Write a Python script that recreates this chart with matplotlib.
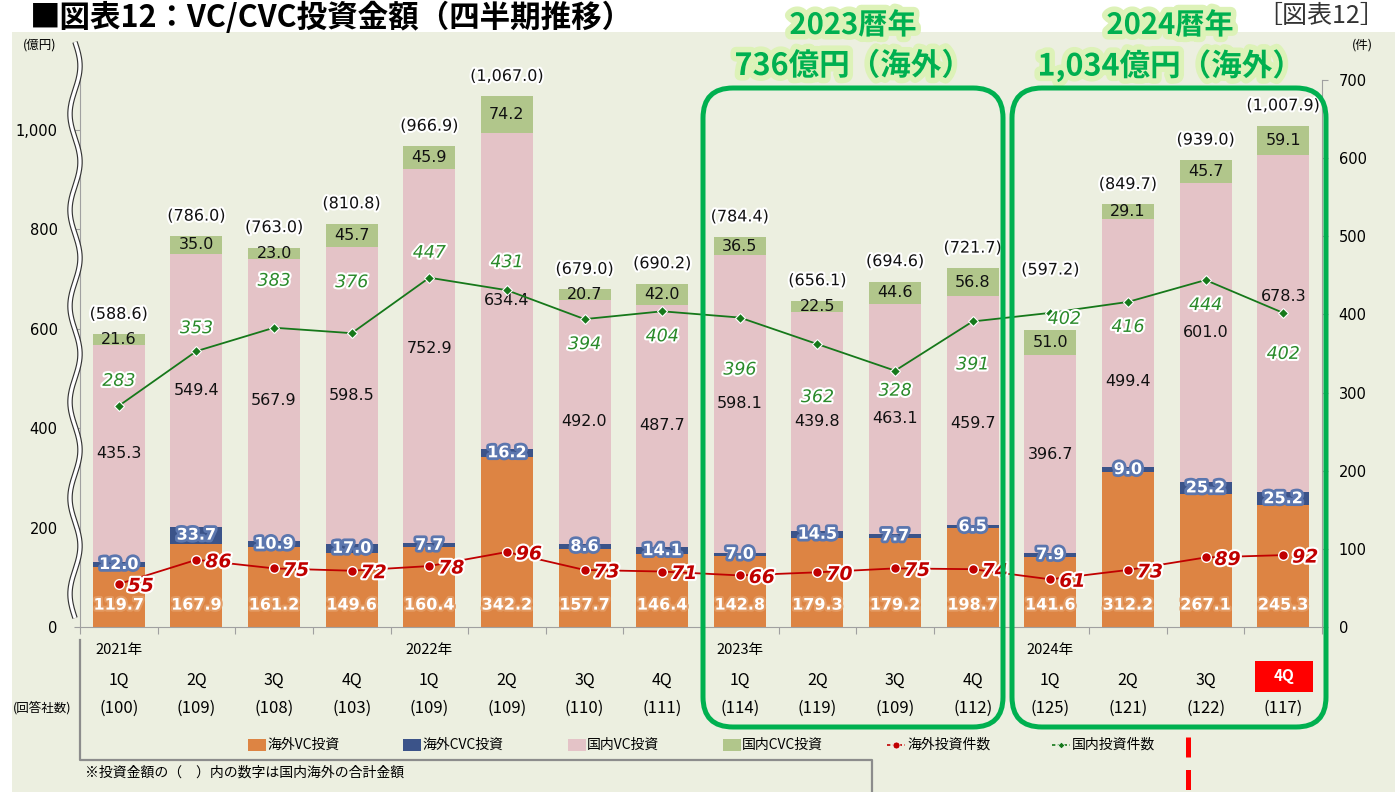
import matplotlib
matplotlib.use("Agg")
import matplotlib.pyplot as plt
import matplotlib.patheffects as pe
import matplotlib.transforms as mtrans
from matplotlib.patches import Rectangle, FancyBboxPatch
from matplotlib.lines import Line2D
import numpy as np

plt.rcParams['font.family'] = ['Noto Sans CJK JP', 'DejaVu Sans']
NUMF = ['DejaVu Sans']

# --- data ---
years = ['2021年', '2022年', '2023年', '2024年']
quarters = ['1Q', '2Q', '3Q', '4Q'] * 4
respondents = [100, 109, 108, 103, 109, 109, 110, 111, 114, 119, 109, 112, 125, 121, 122, 117]

vc_overseas = [119.7, 167.9, 161.2, 149.6, 160.4, 342.2, 157.7, 146.4,
               142.8, 179.3, 179.2, 198.7, 141.6, 312.2, 267.1, 245.3]
cvc_overseas = [12.0, 33.7, 10.9, 17.0, 7.7, 16.2, 8.6, 14.1,
                7.0, 14.5, 7.7, 6.5, 7.9, 9.0, 25.2, 25.2]
vc_domestic = [435.3, 549.4, 567.9, 598.5, 752.9, 634.4, 492.0, 487.7,
               598.1, 439.8, 463.1, 459.7, 396.7, 499.4, 601.0, 678.3]
cvc_domestic = [21.6, 35.0, 23.0, 45.7, 45.9, 74.2, 20.7, 42.0,
                36.5, 22.5, 44.6, 56.8, 51.0, 29.1, 45.7, 59.1]
totals = [588.6, 786.0, 763.0, 810.8, 966.9, 1067.0, 679.0, 690.2,
          784.4, 656.1, 694.6, 721.7, 597.2, 849.7, 939.0, 1007.9]

cnt_overseas = [55, 86, 75, 72, 78, 96, 73, 71, 66, 70, 75, 74, 61, 73, 89, 92]
cnt_domestic = [283, 353, 383, 376, 447, 431, 394, 404, 396, 362, 328, 391, 402, 416, 444, 402]

# label nudges (pixels) to keep labels apart like the original
vcd_shift = {4: 8, 5: -9, 11: -13, 13: -38, 15: 27}
tot_shift = {12: 40}
dom_off = [(0, 25), (0, 23), (0, 47), (0, 51), (0, 25), (0, 28), (0, -25), (0, -25),
           (0, -52), (0, -53), (0, -20), (0, -43), (14, -6), (0, -25), (0, -25), (0, -41)]

C_ORANGE = '#DD8443'
C_NAVY = '#3B5389'
C_PINK = '#E4C3C7'
C_LGREEN = '#B1C68B'
C_RED = '#C00000'
C_DGREEN = '#16781A'
C_BOX = '#00B050'
BG = '#ECEFE0'

W, H = 1395, 792
fig = plt.figure(figsize=(W / 100, H / 100), dpi=100)
inch = fig.dpi_scale_trans


def P(x, y):
    return (x / 100, (H - y) / 100)


# background panel
fig.patches.append(Rectangle(P(12, H), (W - 12) / 100, (H - 32) / 100,
                             transform=inch, facecolor=BG, edgecolor='none', zorder=-10))

ax = fig.add_axes([80 / W, (H - 627) / H, (1322 - 80) / W, (627 - 80) / H])
ax.patch.set_alpha(0)
x = np.arange(len(vc_overseas))
bw = 0.67

b1 = np.array(vc_overseas)
b2 = b1 + np.array(cvc_overseas)
b3 = b2 + np.array(vc_domestic)
ax.bar(x, vc_overseas, bw, color=C_ORANGE, zorder=2)
ax.bar(x, cvc_overseas, bw, bottom=b1, color=C_NAVY, zorder=2)
ax.bar(x, vc_domestic, bw, bottom=b2, color=C_PINK, zorder=2)
ax.bar(x, cvc_domestic, bw, bottom=b3, color=C_LGREEN, zorder=2)

ax.set_xlim(-0.5, len(x) - 0.5)
ax.set_ylim(0, 1100)
ax.set_yticks([0, 200, 400, 600, 800, 1000])
ax.set_yticklabels(['0', '200', '400', '600', '800', '1,000'], family=NUMF)
ax.set_xticks(np.arange(-0.5, len(x), 1.0))
ax.set_xticklabels([])
ax.tick_params(axis='x', length=5, color='#A0A0A0', direction='out')
ax.tick_params(axis='y', length=4, color='#A0A0A0', labelsize=10.5, pad=12)
for s in ['top', 'right']:
    ax.spines[s].set_visible(False)
ax.spines['left'].set_color('#A0A0A0')
ax.spines['bottom'].set_color('#A0A0A0')

upx = 1100 / 547.0  # data units per pixel (left axis)

for i in x:
    ax.text(i, 44, f'{vc_overseas[i]:.1f}', ha='center', va='center', color='white',
            fontsize=11.5, fontweight='bold', zorder=5, family=NUMF,
            path_effects=[pe.withStroke(linewidth=3, foreground='#E39A62')])
    ax.text(i, b1[i] + cvc_overseas[i] / 2, f'{cvc_overseas[i]:.1f}', ha='center', va='center',
            color='white', fontsize=11.5, fontweight='bold', zorder=5, family=NUMF,
            path_effects=[pe.withStroke(linewidth=4, foreground='#5B76AE')])
    ym = b2[i] + vc_domestic[i] / 2 + vcd_shift.get(i, 0) * upx
    ax.text(i, ym, f'{vc_domestic[i]:.1f}', ha='center', va='center', color='#111111',
            fontsize=11.5, zorder=5, family=NUMF)
    ax.text(i, b3[i] + cvc_domestic[i] / 2, f'{cvc_domestic[i]:.1f}', ha='center', va='center',
            color='#111111', fontsize=11.5, zorder=5, family=NUMF)
    ax.text(i, totals[i] + (20 + tot_shift.get(i, 0)) * upx, f'({totals[i]:,.1f})',
            ha='center', va='center', color='#111111', fontsize=11.5, zorder=5, family=NUMF,
            path_effects=[pe.withStroke(linewidth=3, foreground='white')])

# counts on secondary axis
ax2 = ax.twinx()
ax2.set_ylim(0, 700)
ax2.set_yticks(range(0, 701, 100))
ax2.set_yticklabels([str(v) for v in range(0, 701, 100)], family=NUMF)
ax2.tick_params(axis='y', length=4, color='#A0A0A0', labelsize=10.5, pad=8)
for s in ['top', 'left', 'bottom']:
    ax2.spines[s].set_visible(False)
ax2.spines['right'].set_color('#A0A0A0')

ax2.plot(x, cnt_domestic, color=C_DGREEN, lw=1.3, marker='D', ms=5,
         mfc=C_DGREEN, mec='white', mew=0.8, zorder=6)
ax2.plot(x, cnt_overseas, color=C_RED, lw=1.3, marker='o', ms=7,
         mfc=C_RED, mec='white', mew=1.0, zorder=6)
for i in x:
    dx, dy = dom_off[i]
    ax2.annotate(str(cnt_domestic[i]), (i, cnt_domestic[i]), xytext=(dx * 0.72, dy * 0.72),
                 textcoords='offset points', ha='center', va='center', color='#2A8A2A',
                 fontsize=12.5, fontstyle='italic', zorder=7, family=NUMF,
                 path_effects=[pe.withStroke(linewidth=3, foreground='white')])
    ax2.annotate(str(cnt_overseas[i]), (i, cnt_overseas[i]), xytext=(9 * 0.72, -2 * 0.72),
                 textcoords='offset points', ha='left', va='center', color=C_RED,
                 fontsize=13.5, fontweight='bold', fontstyle='italic', zorder=7, family=NUMF,
                 path_effects=[pe.withStroke(linewidth=3, foreground='white')])

# x category labels below axis
bt = mtrans.blended_transform_factory(ax.transData, inch)
for k, yr in enumerate(years):
    ax.text(4 * k, P(0, 650)[1], yr, transform=bt, ha='center', va='center', fontsize=10.5)
for i in x:
    if i == 15:
        continue
    ax.text(i, P(0, 680)[1], quarters[i], transform=bt, ha='center', va='center', fontsize=11.5)
for i in x:
    ax.text(i, P(0, 708)[1], f'({respondents[i]})', transform=bt, ha='center', va='center',
            fontsize=12)
fig.patches.append(Rectangle(P(1255, 692), 0.58, 0.31, transform=inch,
                             facecolor='#FF0000', edgecolor='none'))
fig.text(*P(1284, 676), '4Q', transform=inch, ha='center', va='center', color='white',
         fontsize=11, fontweight='bold')
fig.text(*P(42, 708), '(回答社数)', transform=inch, ha='center', va='center', fontsize=9)

# axis unit labels
fig.text(*P(40, 45), '(億円)', transform=inch, ha='center', va='center', fontsize=9)
fig.text(*P(1362, 45), '(件)', transform=inch, ha='center', va='center', fontsize=9)

# wavy axis break
yy = np.linspace(42, 618, 400)
xx = 75 + 5 * np.sin((yy - 42) / 576 * 2 * np.pi * 6)
for lw, col in [(5.5, '#333333'), (3.2, 'white')]:
    fig.add_artist(Line2D(xx / 100, (H - yy) / 100, transform=inch, color=col, lw=lw * 0.72,
                          solid_capstyle='butt'))

# green rounded boxes and headline text
for (x0, x1) in [(703, 1003), (1012, 1326)]:
    fig.patches.append(FancyBboxPatch(P(x0, 727), (x1 - x0) / 100, (727 - 88) / 100,
                                      boxstyle='round,pad=0,rounding_size=0.3',
                                      transform=inch, facecolor='none', edgecolor=C_BOX,
                                      lw=3.6, zorder=8))
glow = [pe.withStroke(linewidth=8, foreground='#DDF2B8')]
for cx, l1, l2 in [(853, '2023暦年', '736億円（海外）'), (1170, '2024暦年', '1,034億円（海外）')]:
    fig.text(*P(cx, 25), l1, transform=inch, ha='center', va='center', fontsize=21,
             fontweight='bold', color=C_BOX, path_effects=glow)
    fig.text(*P(cx, 66), l2, transform=inch, ha='center', va='center', fontsize=22,
             fontweight='bold', color=C_BOX, path_effects=glow)

# title
fig.text(*P(30, 18), '■図表12：VC/CVC投資金額（四半期推移）', transform=inch, ha='left',
         va='center', fontsize=22, fontweight='bold')
fig.text(*P(1385, 16), '［図表12］', transform=inch, ha='right', va='center', fontsize=18,
         color='#333333')

# legend (manual)
leg = [('海外VC投資', C_ORANGE, 248), ('海外CVC投資', C_NAVY, 403),
       ('国内VC投資', C_PINK, 568), ('国内CVC投資', C_LGREEN, 723)]
for lab, col, lx in leg:
    fig.patches.append(Rectangle(P(lx, 751), 0.18, 0.12, transform=inch, facecolor=col,
                                 edgecolor='none'))
    fig.text(*P(lx + 19, 745), lab, transform=inch, ha='left', va='center', fontsize=10)
for lab, col, mk, lx in [('海外投資件数', C_RED, 'o', 887), ('国内投資件数', C_DGREEN, 'D', 1052)]:
    fig.add_artist(Line2D([lx / 100, (lx + 18) / 100], [P(0, 745)[1]] * 2, transform=inch,
                          color=col, lw=1.2, ls=(0, (2, 1.5))))
    fig.add_artist(Line2D([(lx + 9) / 100], [P(0, 745)[1]], transform=inch, color=col,
                          marker=mk, ms=5 if mk == 'o' else 3.5, mec='white', mew=0.5))
    fig.text(*P(lx + 20, 745), lab, transform=inch, ha='left', va='center', fontsize=10)

# bracket lines and footnote
gx = [80, 80, 872, 872]
gy = [640, 760, 760, 792]
fig.add_artist(Line2D(np.array(gx) / 100, (H - np.array(gy)) / 100, transform=inch,
                      color='#8C8C8C', lw=1.6))
fig.text(*P(85, 773), '※投資金額の（　）内の数字は国内海外の合計金額', transform=inch,
         ha='left', va='center', fontsize=10)

# red dashed marker line
fig.add_artist(Line2D([1188 / 100] * 2, [P(0, 737)[1], 0], transform=inch, color='#FF0000',
                      lw=3.6, ls=(0, (4, 2.5))))

fig.savefig('out.png', dpi=100, facecolor='white')
